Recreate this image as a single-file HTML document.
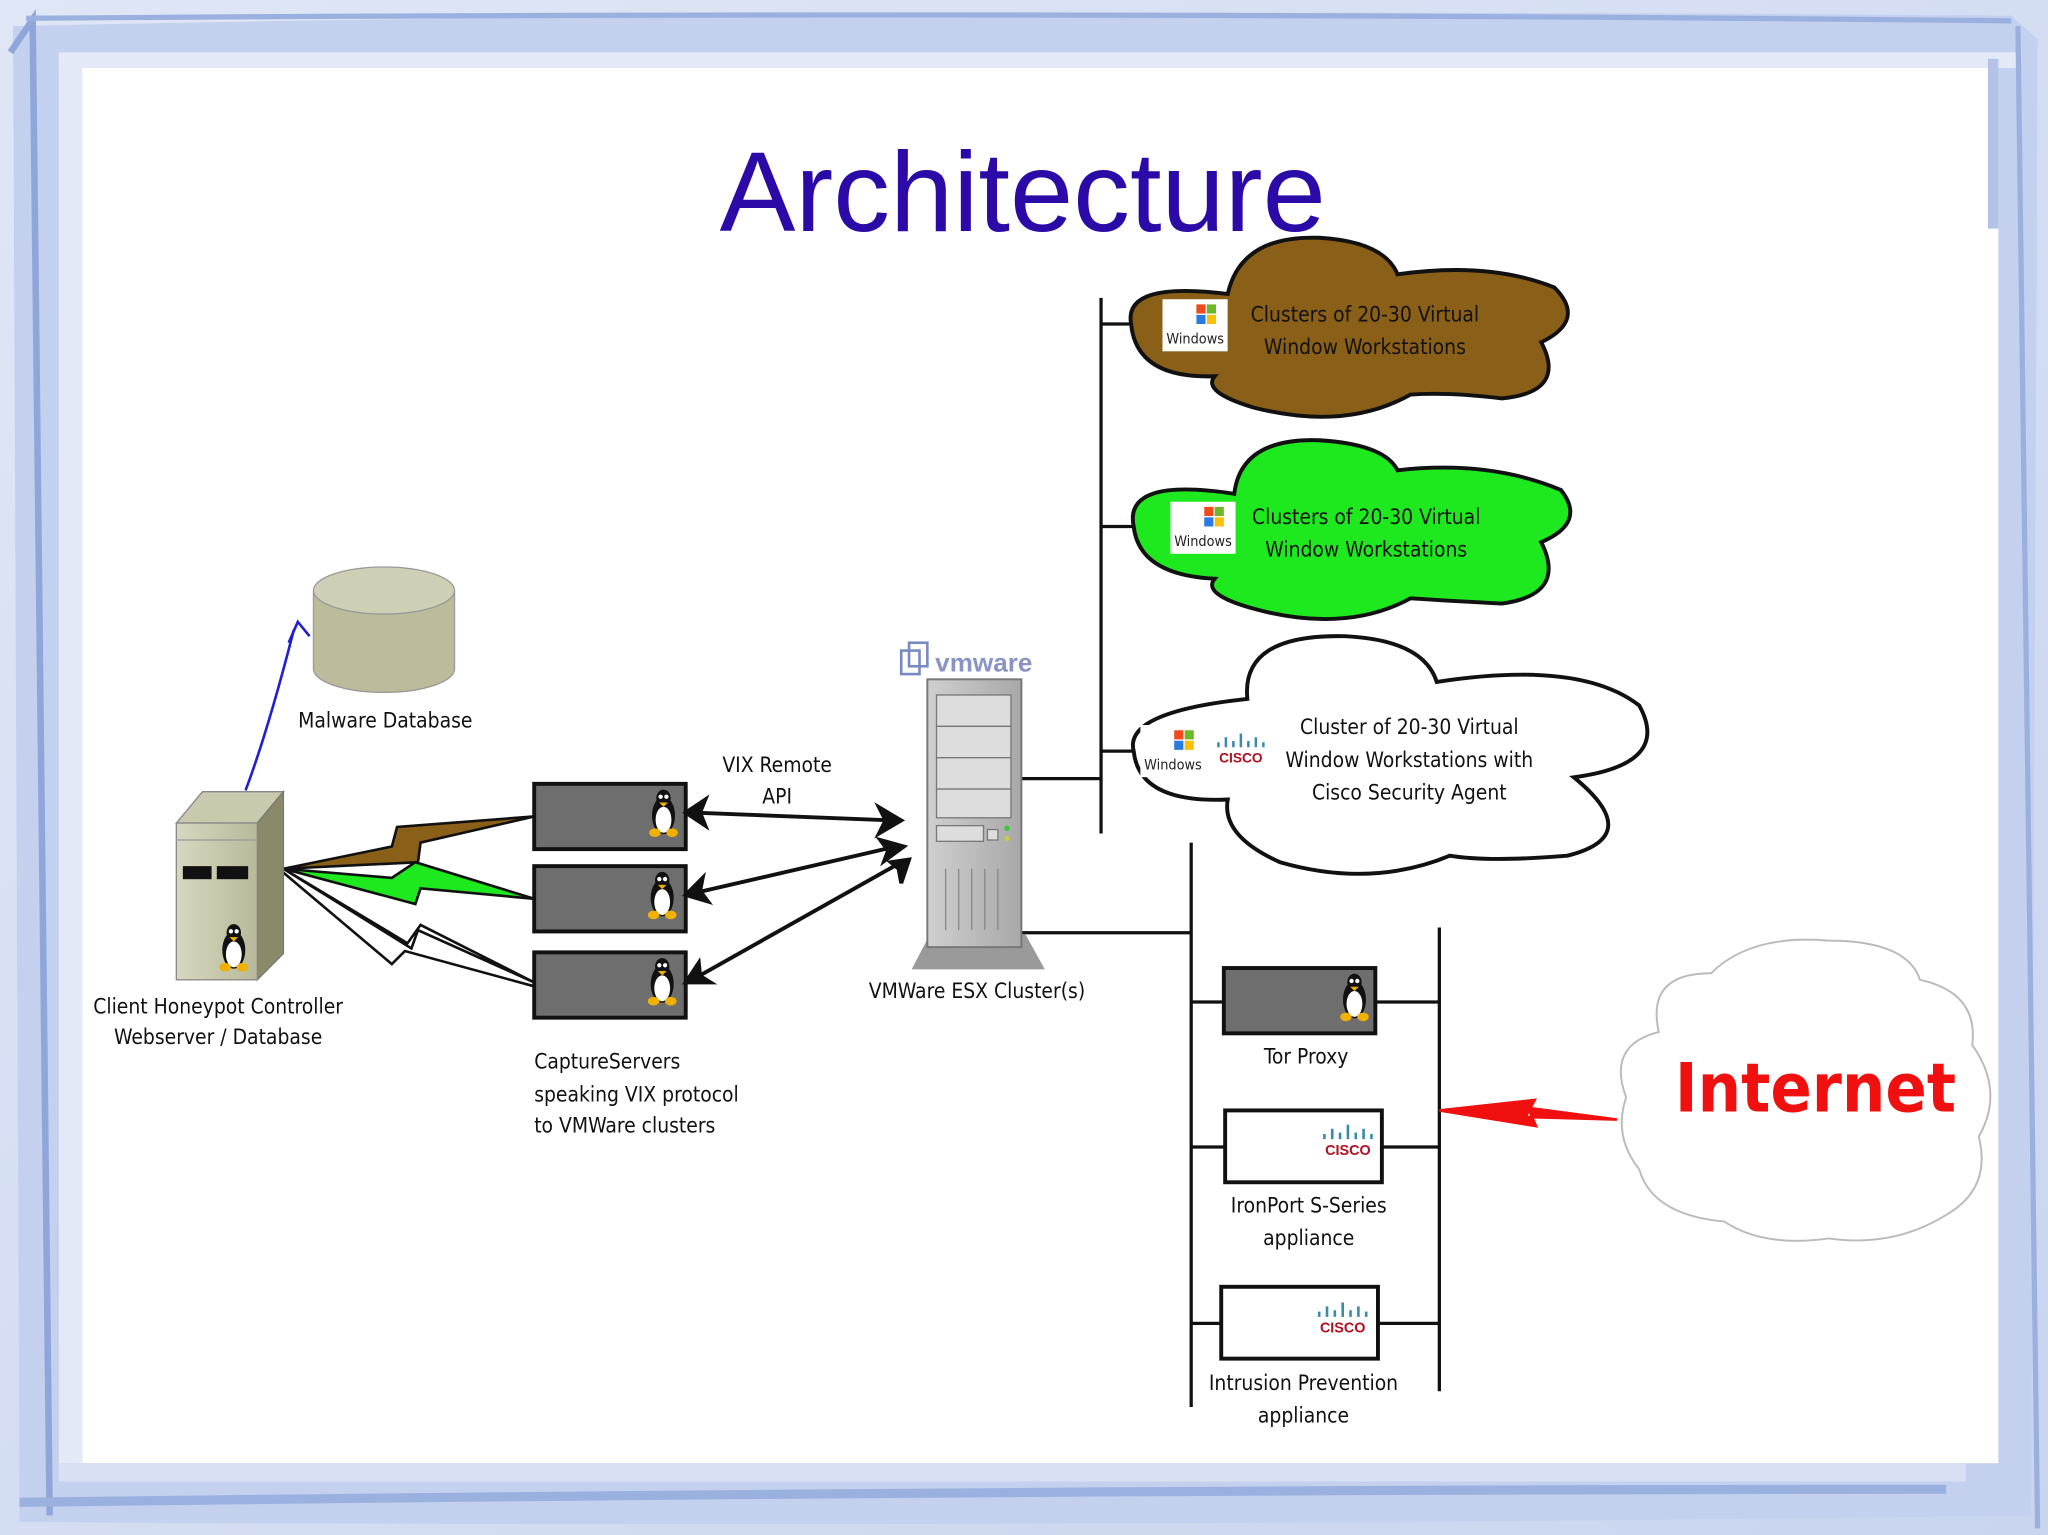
<!DOCTYPE html>
<html><head><meta charset="utf-8"><style>
html,body{margin:0;padding:0;background:#fff}
svg{display:block}
text{font-family:"DejaVu Sans Condensed","DejaVu Sans","Liberation Sans",sans-serif;font-stretch:condensed;fill:#111}
</style></head><body>
<svg width="2048" height="1535" viewBox="0 0 1568 1175" preserveAspectRatio="none" xmlns="http://www.w3.org/2000/svg">
<defs>
<linearGradient id="fr" x1="0" y1="0" x2="1" y2="1"><stop offset="0" stop-color="#dfe6f6"/><stop offset="1" stop-color="#c9d5ef"/></linearGradient>
<linearGradient id="srv" x1="0" y1="0" x2="1" y2="0"><stop offset="0" stop-color="#d8d8c0"/><stop offset="1" stop-color="#b8b89a"/></linearGradient>
<linearGradient id="tw" x1="0" y1="0" x2="1" y2="0"><stop offset="0" stop-color="#cfcfcf"/><stop offset="1" stop-color="#a8a8a8"/></linearGradient>
<symbol id="tux" viewBox="0 0 20 36">
<ellipse cx="10" cy="20" rx="8" ry="13" fill="#111"/>
<ellipse cx="10" cy="23" rx="5.5" ry="9" fill="#fff"/>
<ellipse cx="10" cy="8" rx="5" ry="6" fill="#111"/>
<circle cx="8" cy="7" r="1.5" fill="#fff"/><circle cx="12" cy="7" r="1.5" fill="#fff"/>
<path d="M7 11 L13 11 L10 14Z" fill="#f0b000"/>
<ellipse cx="4" cy="32" rx="4" ry="3" fill="#f0b000"/><ellipse cx="16" cy="32" rx="4" ry="3" fill="#f0b000"/>
</symbol>
<symbol id="win" viewBox="0 0 50 40">
<rect width="50" height="40" fill="#fff"/>
<rect x="26" y="4" width="7" height="7" fill="#f04a1a"/><rect x="34" y="4" width="7" height="7" fill="#6cb82a"/>
<rect x="26" y="12" width="7" height="7" fill="#2a7ae0"/><rect x="34" y="12" width="7" height="7" fill="#f8c00a"/>
<text x="3" y="34" style="font-size:11px;fill:#222">Windows</text>
</symbol>
<symbol id="cisco" viewBox="0 0 46 26">
<g stroke="#3a8ab0" stroke-width="2">
<line x1="4" y1="8" x2="4" y2="12"/><line x1="10" y1="4" x2="10" y2="12"/><line x1="16" y1="7" x2="16" y2="12"/><line x1="22" y1="1" x2="22" y2="12"/><line x1="28" y1="7" x2="28" y2="12"/><line x1="34" y1="4" x2="34" y2="12"/><line x1="40" y1="8" x2="40" y2="12"/></g>
<text x="22" y="24" text-anchor="middle" style="font-size:11px;font-weight:bold;fill:#b01020;font-family:'Liberation Sans',sans-serif">CISCO</text>
</symbol>
</defs>

<!-- frame -->
<rect width="1568" height="1175" fill="url(#fr)"/>
<path d="M10 20 Q700 5 1540 12 L1560 30 L1555 1160 Q800 1170 15 1165 Z" fill="#c3d0ee"/>
<rect x="60" y="52" width="1470" height="1068" fill="#fff"/>
<rect x="45" y="40" width="1500" height="12" fill="#e3e9f7"/>
<rect x="45" y="1120" width="1460" height="14" fill="#d8e0f4"/>
<rect x="45" y="45" width="18" height="1075" fill="#e3e9f7"/>
<rect x="1522" y="45" width="8" height="130" fill="#b3c2e6"/>
<path d="M8 40 L25 15 L38 1160" stroke="#8ea6da" stroke-width="5" fill="none"/>
<path d="M20 14 Q800 8 1540 16" stroke="#9ab0de" stroke-width="4" fill="none"/>
<path d="M1545 20 L1560 1170" stroke="#9ab0de" stroke-width="4" fill="none"/>
<path d="M15 1150 Q800 1140 1490 1140" stroke="#9ab0de" stroke-width="7" fill="none"/>

<text x="783" y="177" text-anchor="middle" style="font-family:'Liberation Sans',sans-serif;font-stretch:normal;font-size:87px;fill:#2b0aa8">Architecture</text>

<!-- right bus -->
<g stroke="#111" stroke-width="2.5" fill="none">
<line x1="843" y1="228" x2="843" y2="638"/>
<line x1="843" y1="248" x2="866" y2="248"/>
<line x1="843" y1="403" x2="868" y2="403"/>
<line x1="843" y1="575" x2="868" y2="575"/>
<line x1="782" y1="596" x2="843" y2="596"/>
<line x1="782" y1="714" x2="912" y2="714"/>
<line x1="912" y1="645" x2="912" y2="1077"/>
<line x1="1102" y1="710" x2="1102" y2="1065"/>
<line x1="912" y1="767" x2="1102" y2="767"/>
<line x1="912" y1="878" x2="1102" y2="878"/>
<line x1="912" y1="1013" x2="1102" y2="1013"/>
</g>

<!-- clouds -->
<path d="M866 248 Q860 215 940 225 Q950 180 1010 182 Q1060 185 1070 210 Q1140 200 1190 220 Q1215 245 1180 262 Q1200 300 1150 305 Q1110 300 1080 302 Q1030 330 960 312 Q920 300 930 288 Q870 290 866 248Z" fill="#8a5f18" stroke="#111" stroke-width="3"/>
<path d="M868 403 Q860 365 945 378 Q950 335 1010 337 Q1060 340 1070 360 Q1140 352 1195 375 Q1215 400 1180 415 Q1200 455 1150 462 Q1110 460 1080 458 Q1030 485 960 466 Q920 455 930 443 Q872 440 868 403Z" fill="#1ee81e" stroke="#111" stroke-width="3"/>
<path d="M868 575 Q860 545 955 535 Q950 485 1030 487 Q1090 490 1100 522 Q1210 505 1255 540 Q1280 585 1205 595 Q1260 640 1200 655 Q1140 660 1110 655 Q1050 680 980 660 Q935 640 940 612 Q872 615 868 575Z" fill="#fff" stroke="#111" stroke-width="3"/>
<path d="M1245 840 Q1230 800 1270 790 Q1260 745 1310 745 Q1340 715 1400 720 Q1460 720 1470 750 Q1515 760 1510 800 Q1535 835 1515 870 Q1525 910 1490 930 Q1450 955 1400 948 Q1350 955 1320 935 Q1265 930 1255 895 Q1235 870 1245 840Z" fill="#fff" stroke="#bbb" stroke-width="1.5"/>

<use href="#win" x="890" y="229" width="50" height="40"/>
<use href="#win" x="896" y="384" width="50" height="40"/>
<use href="#win" x="873" y="555" width="50" height="40"/>
<use href="#cisco" x="929" y="560" width="44" height="26"/>

<g style="font-size:16px" text-anchor="middle">
<text x="1045" y="246">Clusters of 20-30 Virtual</text>
<text x="1045" y="271">Window Workstations</text>
<text x="1046" y="401">Clusters of 20-30 Virtual</text>
<text x="1046" y="426">Window Workstations</text>
<text x="1079" y="562">Cluster of 20-30 Virtual</text>
<text x="1079" y="587">Window Workstations with</text>
<text x="1079" y="612">Cisco Security Agent</text>
<text x="1000" y="814">Tor Proxy</text>
<text x="1002" y="928">IronPort S-Series</text>
<text x="1002" y="953">appliance</text>
<text x="998" y="1064">Intrusion Prevention</text>
<text x="998" y="1089">appliance</text>
<text x="748" y="764">VMWare ESX Cluster(s)</text>
<text x="595" y="591">VIX Remote</text>
<text x="595" y="615">API</text>
<text x="295" y="557">Malware Database</text>
<text x="167" y="776">Client Honeypot Controller</text>
<text x="167" y="799">Webserver / Database</text>
</g>
<g style="font-size:16px">
<text x="409" y="818">CaptureServers</text>
<text x="409" y="843">speaking VIX protocol</text>
<text x="409" y="867">to VMWare clusters</text>
</g>
<text x="1390" y="851" text-anchor="middle" style="font-family:'DejaVu Sans','Liberation Sans',sans-serif;font-size:52px;font-weight:bold;fill:#f01010">Internet</text>

<!-- right devices -->
<rect x="937" y="741" width="116" height="50" fill="#6e6e6e" stroke="#111" stroke-width="3"/>
<use href="#tux" x="1026" y="743" width="22" height="40"/>
<rect x="938" y="850" width="120" height="55" fill="#fff" stroke="#111" stroke-width="3"/>
<use href="#cisco" x="1010" y="860" width="46" height="26"/>
<rect x="935" y="985" width="120" height="55" fill="#fff" stroke="#111" stroke-width="3"/>
<use href="#cisco" x="1006" y="996" width="46" height="26"/>
<path d="M1102 850 L1175 842 L1168 855 L1238 857 L1170 848 L1176 862Z" fill="#f01010" stroke="#f01010" stroke-width="2"/>

<!-- ESX tower -->
<path d="M698 742 L712 715 L785 715 L800 742Z" fill="#9a9a9a"/>
<rect x="710" y="520" width="72" height="205" fill="url(#tw)" stroke="#777" stroke-width="1.5"/>
<g fill="#ddd" stroke="#777" stroke-width="1"><rect x="717" y="532" width="57" height="24"/><rect x="717" y="556" width="57" height="24"/><rect x="717" y="580" width="57" height="24"/><rect x="717" y="604" width="57" height="22"/><rect x="717" y="632" width="36" height="12"/><rect x="756" y="635" width="8" height="8"/></g>
<g stroke="#888"><line x1="724" y1="665" x2="724" y2="712"/><line x1="734" y1="665" x2="734" y2="712"/><line x1="744" y1="665" x2="744" y2="712"/><line x1="754" y1="665" x2="754" y2="712"/><line x1="764" y1="665" x2="764" y2="712"/></g>
<circle cx="771" cy="634" r="2" fill="#3c3"/><circle cx="771" cy="642" r="2" fill="#cc3"/>
<rect x="690" y="498" width="14" height="18" fill="none" stroke="#7a8ac0" stroke-width="2"/>
<rect x="696" y="492" width="14" height="18" fill="none" stroke="#7a8ac0" stroke-width="2"/>
<text x="716" y="514" style="font-family:'Liberation Sans',sans-serif;font-size:20px;font-weight:bold;fill:#8a94c4;font-stretch:normal">vmware</text>

<!-- capture servers -->
<g fill="#6e6e6e" stroke="#111" stroke-width="3">
<rect x="409" y="600" width="116" height="50"/>
<rect x="409" y="663" width="116" height="50"/>
<rect x="409" y="729" width="116" height="50"/>
</g>
<use href="#tux" x="497" y="602" width="22" height="40"/>
<use href="#tux" x="496" y="665" width="22" height="40"/>
<use href="#tux" x="496" y="731" width="22" height="40"/>

<!-- arrows -->
<g stroke="#111" stroke-width="3" fill="#111">
<line x1="530" y1="622" x2="684" y2="628"/>
<line x1="530" y1="684" x2="686" y2="648"/>
<line x1="530" y1="750" x2="690" y2="660"/>
<path d="M525 622 L540 612 L536 622 L540 632Z"/>
<path d="M525 685 L538 672 L536 682 L542 690Z"/>
<path d="M525 752 L535 737 L536 747 L544 752Z"/>
<path d="M690 628 L673 618 L678 628 L673 638Z"/>
<path d="M692 648 L674 643 L680 651 L677 659Z"/>
<path d="M696 658 L682 660 L688 665 L690 676Z"/>
</g>

<!-- lightning -->
<path d="M217 665 L300 648 L304 633 L409 625 L322 645 L320 660Z" fill="#8a5f18" stroke="#111" stroke-width="2"/>
<path d="M217 665 L300 672 L318 660 L409 688 L322 680 L318 692Z" fill="#1ee81e" stroke="#111" stroke-width="2"/>
<path d="M217 665 L312 722 L322 708 L409 752 L320 712 L315 726 Z" fill="#fff" stroke="#111" stroke-width="2"/>
<path d="M217 668 L300 738 L310 728 L409 755" fill="none" stroke="#111" stroke-width="2"/>

<!-- client server -->
<path d="M135 630 L155 606 L217 606 L197 630Z" fill="#c9c9ae" stroke="#888"/>
<path d="M197 630 L217 606 L217 730 L197 750Z" fill="#8a8a6a" stroke="#777"/>
<rect x="135" y="630" width="62" height="120" fill="url(#srv)" stroke="#888"/>
<line x1="135" y1="643" x2="197" y2="643" stroke="#999"/>
<rect x="140" y="663" width="22" height="10" fill="#111"/><rect x="166" y="663" width="24" height="10" fill="#111"/>
<use href="#tux" x="168" y="704" width="22" height="42"/>

<!-- DB -->
<path d="M240 452 L240 512 A54 18 0 0 0 348 512 L348 452" fill="#bcbc9c" stroke="#999"/>
<ellipse cx="294" cy="452" rx="54" ry="18" fill="#cfcfb6" stroke="#999"/>
<path d="M188 605 Q205 560 225 482" stroke="#2020d0" stroke-width="2" fill="none"/>
<path d="M221 492 L228 476 L237 487" stroke="#2020d0" stroke-width="2" fill="none"/>
</svg>
</body></html>
